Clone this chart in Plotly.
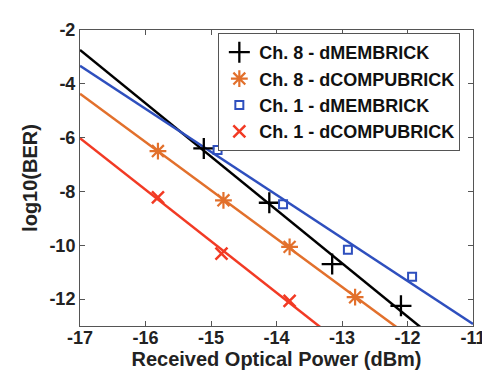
import numpy as np
import plotly.graph_objects as go

# Data
names = ["Ch. 8 - dMEMBRICK", "Ch. 8 - dCOMPUBRICK", "Ch. 1 - dMEMBRICK", "Ch. 1 - dCOMPUBRICK"]

ch8_mem_x = [-15.11, -14.11, -13.15, -12.10]
ch8_mem_y = [-6.40, -8.42, -10.70, -12.25]

ch8_comp_x = [-15.81, -14.81, -13.80, -12.80]
ch8_comp_y = [-6.50, -8.33, -10.06, -11.93]

ch1_mem_x = [-14.90, -13.90, -12.91, -11.93]
ch1_mem_y = [-6.46, -8.48, -10.17, -11.17]

ch1_comp_x = [-15.81, -14.84, -13.80]
ch1_comp_y = [-8.22, -10.31, -12.07]

x_ticks = [-17, -16, -15, -14, -13, -12, -11]
y_ticks = [-12, -10, -8, -6, -4, -2]

series = [
    (ch8_mem_x, ch8_mem_y, "#000000", "cross-thin-open", 15, 2.3),
    (ch8_comp_x, ch8_comp_y, "#E2702C", "asterisk-open", 14, 2.2),
    (ch1_mem_x, ch1_mem_y, "#2E4FBE", "square-open", 8, 2.0),
    (ch1_comp_x, ch1_comp_y, "#F23A24", "x-thin-open", 12, 2.5),
]

FONT = "Liberation Sans, Arial, sans-serif"

fig = go.Figure()
fit_x = np.array([-17.0, -11.0])
for name, (xs, ys, col, sym, sz, lw) in zip(names, series):
    k, b = np.polyfit(xs, ys, 1)
    fig.add_trace(go.Scatter(x=fit_x, y=k * fit_x + b, mode="lines",
                             line=dict(color=col, width=2.5), showlegend=False,
                             hoverinfo="skip"))
for name, (xs, ys, col, sym, sz, lw) in zip(names, series):
    fig.add_trace(go.Scatter(x=xs, y=ys, mode="markers", name=f"<b>{name}</b>",
                             marker=dict(symbol=sym, size=sz, color=col,
                                         line=dict(color=col, width=lw))))

axis_common = dict(
    showline=True, linecolor="#555555", linewidth=1, mirror="ticks",
    ticks="inside", ticklen=5, tickcolor="#555555", showgrid=False, zeroline=False,
    tickfont=dict(family=FONT, size=18, color="#222222", weight="bold"),
    tickprefix="<b>", ticksuffix="</b>",
)
fig.update_xaxes(range=[-17, -11], tickvals=x_ticks, ticktext=[str(v) for v in x_ticks],
                 ticklabelstandoff=-5,
                 title=dict(text="<b>Received Optical Power (dBm)</b>", standoff=0,
                            font=dict(family=FONT, size=20, color="#222222", weight="bold")),
                 **axis_common)
fig.update_yaxes(range=[-13, -2], tickvals=y_ticks, ticktext=[str(v) for v in y_ticks],
                 title=dict(text="<b>log10(BER)</b>", standoff=6,
                            font=dict(family=FONT, size=20, color="#222222", weight="bold")),
                 **axis_common)

fig.update_layout(
    width=490, height=374,
    margin=dict(l=72, r=15, t=12, b=56),
    paper_bgcolor="#FFFFFF", plot_bgcolor="#FFFFFF",
    showlegend=True,
    legend=dict(x=0.352, y=0.99, xanchor="left", yanchor="top",
                bgcolor="#FFFFFF", bordercolor="#555555", borderwidth=1,
                font=dict(family=FONT, size=18, color="#111111", weight="bold"),
                itemwidth=30, tracegroupgap=0),
)

fig.write_html("out.html")
